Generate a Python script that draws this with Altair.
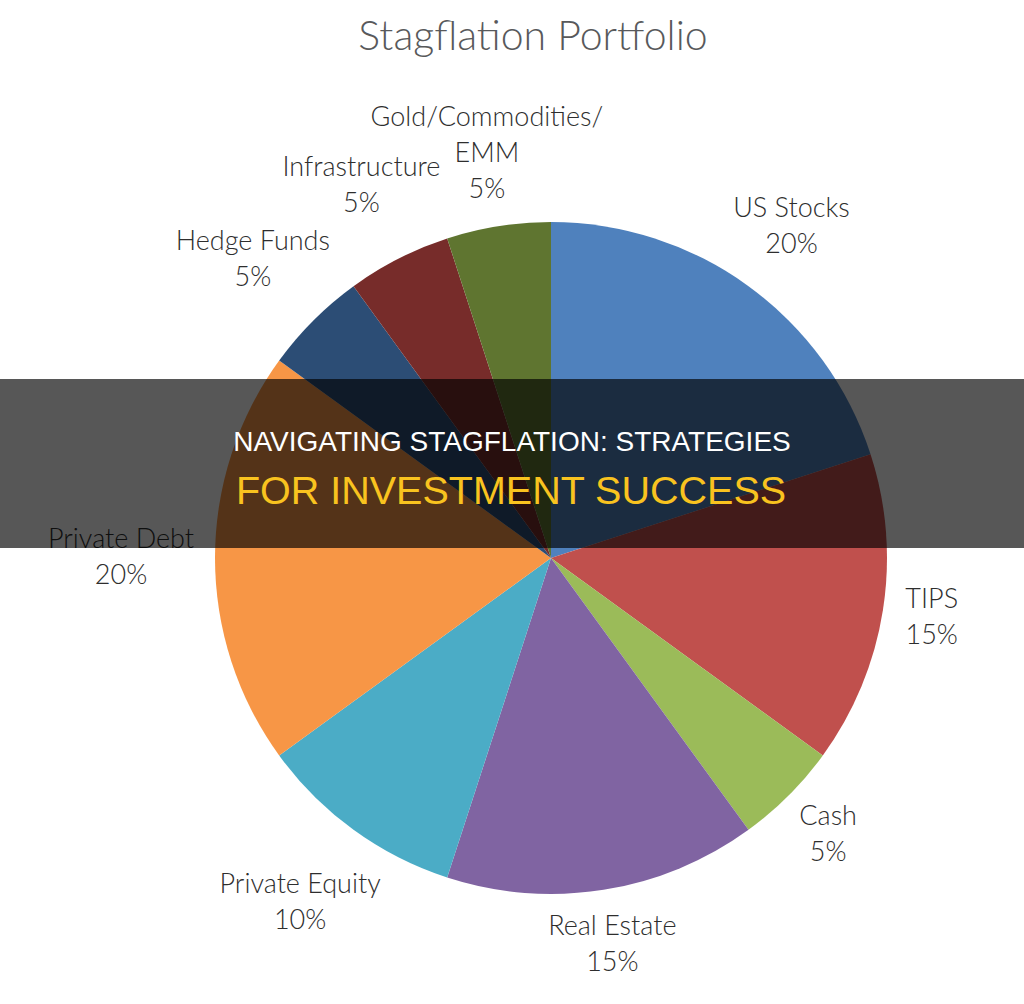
import altair as alt
import pandas as pd

# ---- data ----
categories = ["US Stocks", "TIPS", "Cash", "Real Estate", "Private Equity",
              "Private Debt", "Hedge Funds", "Infrastructure", "Gold/Commodities/EMM"]
values = [20, 15, 5, 15, 10, 20, 5, 5, 5]
label_names = ["US Stocks", "TIPS", "Cash", "Real Estate", "Private Equity",
               "Private Debt", "Hedge Funds", "Infrastructure", "Gold/Commodities/\nEMM"]
colors = ["#4F81BD", "#C0504D", "#9BBB59", "#8064A2", "#4BACC6",
          "#F79646", "#2C4D75", "#772C2A", "#5F7530"]

title_text = "Stagflation Portfolio"
headline_1 = "NAVIGATING STAGFLATION: STRATEGIES"
headline_2 = "FOR INVESTMENT SUCCESS"

labels = [f"{n}\n{v}%" for n, v in zip(label_names, values)]
df = pd.DataFrame({
    "category": categories, "value": values,
    "order": list(range(len(categories))), "label": labels,
    # text extent of each label, used by the label-placement rule below
    "lines": [len(s.split("\n")) for s in labels],
    "maxchars": [max(len(p) for p in s.split("\n")) for s in labels],
})

# view geometry: pie centre at (551, 558) in the 1024x1004 page
PL, PT = 78, 112
W, H = 946, 892
PIE_R = 336
LINE_H = 36

arcs = alt.Chart(df).mark_arc(outerRadius=PIE_R).encode(
    theta=alt.Theta("value:Q", stack=True),
    order=alt.Order("order:Q"),
    color=alt.Color("category:N", scale=alt.Scale(domain=categories, range=colors), legend=None),
)

# labels at each slice's mid-angle, pushed out from the rim far enough
# that their text box clears the pie
label_base = alt.Chart(df).transform_joinaggregate(
    total="sum(value)"
).transform_window(
    cum="sum(value)", sort=[alt.SortField("order")], frame=[None, 0]
).transform_calculate(
    midv="datum.cum - datum.value / 2",
    mid="(datum.cum - datum.value / 2) / datum.total * 2 * PI",
).transform_calculate(
    r="358 + datum.maxchars * 6 * abs(sin(datum.mid)) + datum.lines * 12 * abs(cos(datum.mid))",
).encode(
    theta=alt.Theta("midv:Q", stack=None),
    radius=alt.Radius("r:Q", scale=None),
    text="label:N",
)

label_style = dict(font="Lato", fontWeight=300, fontSize=27, color="#2E2E2E",
                   lineBreak="\n", lineHeight=LINE_H, align="center", baseline="middle")

# multi-line text starts at its anchor, so shift each block up to centre it
labels_2 = label_base.transform_filter("datum.lines == 2").mark_text(
    dy=-LINE_H / 2, **label_style)
labels_3 = label_base.transform_filter("datum.lines == 3").mark_text(
    dy=-LINE_H, **label_style)

title = alt.Chart(pd.DataFrame({"t": [title_text]})).mark_text(
    font="Lato", fontWeight=300, fontSize=41, color="#58595B", align="center", baseline="middle"
).encode(text="t:N", x=alt.value(533 - PL), y=alt.value(38 - PT))

band = alt.Chart(pd.DataFrame({"a": [0]})).mark_rect(color="#000000", opacity=0.66).encode(
    x=alt.value(-PL), x2=alt.value(1024 - PL), y=alt.value(379 - PT), y2=alt.value(548 - PT)
)

line1 = alt.Chart(pd.DataFrame({"t": [headline_1]})).mark_text(
    font="Liberation Sans", fontSize=28, color="#FFFFFF", align="center", baseline="middle"
).encode(text="t:N", x=alt.value(512 - PL), y=alt.value(443 - PT))

line2 = alt.Chart(pd.DataFrame({"t": [headline_2]})).mark_text(
    font="Liberation Sans", fontSize=39.5, color="#F9C31F", align="center", baseline="middle"
).encode(text="t:N", x=alt.value(511 - PL), y=alt.value(492 - PT))

chart = alt.layer(arcs, labels_2, labels_3, title, band, line1, line2).properties(
    width=W, height=H,
    padding={"left": PL, "top": PT, "right": 0, "bottom": 0},
    autosize=alt.AutoSizeParams(type="none"),
    background="#FFFFFF",
).configure_view(stroke=None)

chart.save("out.html", embed_options={"renderer": "svg", "actions": False})
